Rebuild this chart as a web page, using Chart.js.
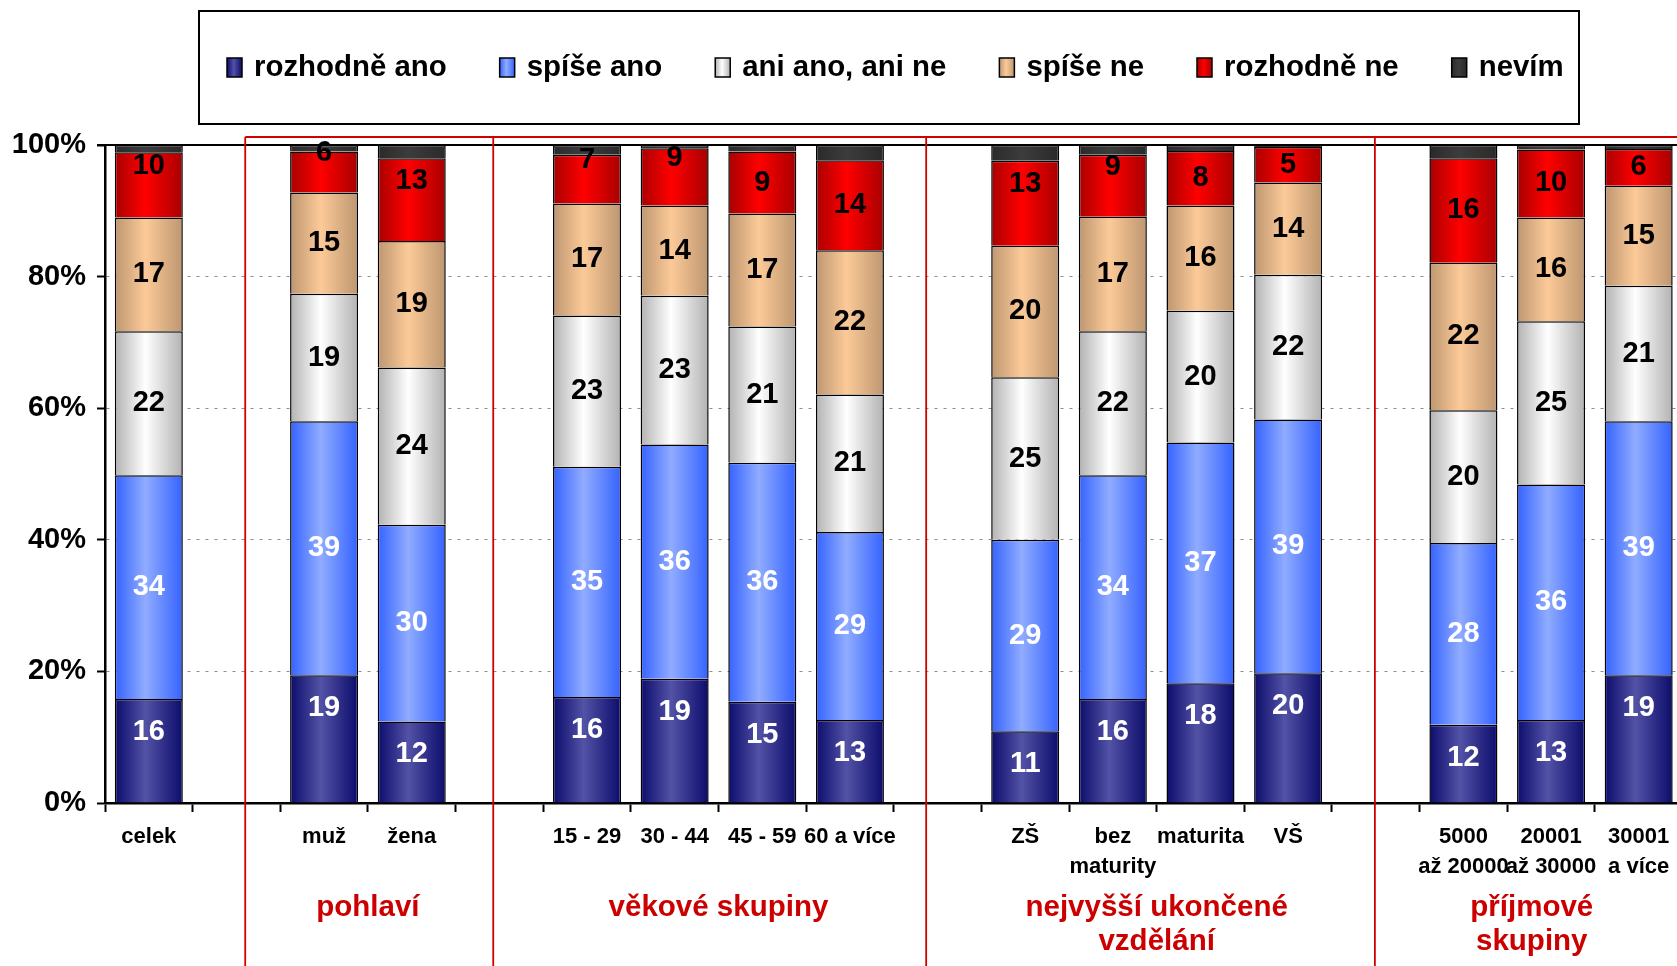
<!DOCTYPE html>
<html lang="cs">
<head>
<meta charset="utf-8">
<title>Názor podle skupin</title>
<script src="https://cdn.jsdelivr.net/npm/chart.js@4/dist/chart.umd.min.js"></script>
<style>
  html, body { margin: 0; padding: 0; background: #fff; overflow: hidden; }
  canvas { display: block; }
</style>
</head>
<body>
<canvas id="chart" width="1700" height="966"></canvas>
<script>
'use strict'

// categories (empty strings = gaps between groups)
const categories = [
  'celek', '',
  'muž', 'žena', '',
  '15 - 29', '30 - 44', '45 - 59', '60 a více', '',
  'ZŠ', ['bez', 'maturity'], 'maturita', 'VŠ', '',
  ['5000', 'až 20000'], ['20001', 'až 30000'], ['30001', 'a více']
]

const seriesNames = ['rozhodně ano', 'spíše ano', 'ani ano, ani ne', 'spíše ne', 'rozhodně ne', 'nevím']

// values in %
const rozhodneAno = [15.8, null, 19.4, 12.4, null, 16.1, 18.9, 15.4, 12.6, null, 10.9, 15.8, 18.2, 19.7, null, 11.9, 12.6, 19.4]
const spiseAno    = [34.0, null, 38.6, 29.9, null, 35.0, 35.6, 36.3, 28.6, null, 29.1, 34.0, 36.6, 38.6, null, 27.6, 35.8, 38.6]
const aniAnoAniNe = [21.9, null, 19.4, 23.9, null, 23.0, 22.6, 20.7, 20.9, null, 24.7, 21.9, 20.0, 22.0, null, 20.2, 24.8, 20.6]
const spiseNe     = [17.3, null, 15.4, 19.2, null, 17.0, 13.7, 17.2, 21.9, null, 20.0, 17.4, 16.0, 14.0, null, 22.4, 15.8, 15.2]
const rozhodneNe  = [9.9, null, 6.2, 12.6, null, 7.4, 8.7, 9.4, 13.7, null, 12.9, 9.4, 8.3, 5.4, null, 15.9, 10.3, 5.6]
const nevim       = [1.1, null, 1.0, 2.0, null, 1.5, 0.5, 1.0, 2.3, null, 2.4, 1.5, 0.9, 0.3, null, 2.0, 0.7, 0.6]

const yTicks = [0, 20, 40, 60, 80, 100]

// group captions under the axis
const groupNames = [['pohlaví'], ['věkové skupiny'], ['nejvyšší ukončené', 'vzdělání'], ['příjmové', 'skupiny']]
const groupCenters = [2.5, 6.5, 11.5, 15.78]   // in category units
const separators = [1.1, 3.93, 8.87, 13.99]    // in category units

// red labels that sit higher in their segment in the original
const liftedRed = [0, 2, 3, 5, 6, 10, 11]

const FONT = "'Liberation Sans', Arial, sans-serif"
const BAR_PCT = 0.776

// edge / middle colours of the cylinder-ish gradient
const palette = [
  ['#0c0c6c', '#5252a6'],
  ['#3462ff', '#90acff'],
  ['#b2b2b2', '#ffffff'],
  ['#bd9670', '#fcca98'],
  ['#a80000', '#ff0000'],
  ['#2a2a2a', '#3c3c3c']
]

function cylinder (edge, mid) {
  return (c) => {
    const xs = c.chart.scales.x
    if (c.type !== 'data' || !xs || !xs.width) return mid
    const cx = xs.getPixelForValue(c.dataIndex)
    const half = xs.width / categories.length * BAR_PCT / 2
    const g = c.chart.ctx.createLinearGradient(cx - half, 0, cx + half, 0)
    g.addColorStop(0, edge)
    g.addColorStop(0.45, mid)
    g.addColorStop(1, edge)
    return g
  }
}

const seriesData = [rozhodneAno, spiseAno, aniAnoAniNe, spiseNe, rozhodneNe, nevim]

const datasets = seriesData.map((d, i) => ({
  label: seriesNames[i],
  data: d,
  backgroundColor: cylinder(palette[i][0], palette[i][1]),
  borderColor: '#000',
  borderWidth: 1.5,
  categoryPercentage: 1,
  barPercentage: BAR_PCT
}))

// legend box, data labels, group captions, red separators
const decorations = {
  id: 'decorations',
  afterDatasetsDraw (chart) {
    const { ctx } = chart
    ctx.save()
    ctx.font = 'bold 29px ' + FONT
    ctx.textAlign = 'center'
    ctx.textBaseline = 'middle'
    for (let di = 0; di < 5; di++) {
      const meta = chart.getDatasetMeta(di)
      meta.data.forEach((bar, i) => {
        const v = seriesData[di][i]
        if (v == null) return
        let y = (bar.y + bar.base) / 2
        if (di === 0) y = bar.y + 33
        if (di === 4 && liftedRed.includes(i)) y -= 19
        ctx.fillStyle = di < 2 ? '#fff' : '#000'
        ctx.fillText(String(Math.round(v)), bar.x, y)
      })
    }
    ctx.restore()
  },
  afterDraw (chart) {
    const { ctx, chartArea } = chart
    const xs = chart.scales.x
    const ys = chart.scales.y
    const slot = xs.width / categories.length
    const px = (v) => xs.left + slot * (v + 0.5)
    ctx.save()

    // top line at 100 %
    ctx.strokeStyle = '#000'
    ctx.lineWidth = 2
    ctx.beginPath()
    ctx.moveTo(chartArea.left - 8, ys.getPixelForValue(100))
    ctx.lineTo(chartArea.right, ys.getPixelForValue(100))
    ctx.stroke()

    // red group frames
    const top = ys.getPixelForValue(100) - 8
    ctx.strokeStyle = '#d00000'
    ctx.lineWidth = 1.8
    ctx.beginPath()
    ctx.moveTo(px(separators[0]), top)
    ctx.lineTo(chart.width, top)
    separators.forEach((s) => {
      ctx.moveTo(px(s), top)
      ctx.lineTo(px(s), chart.height)
    })
    ctx.stroke()

    // group captions
    ctx.fillStyle = '#cc0000'
    ctx.font = 'bold 29.5px ' + FONT
    ctx.textAlign = 'center'
    ctx.textBaseline = 'middle'
    groupNames.forEach((lines, gi) => {
      lines.forEach((t, li) => {
        ctx.fillText(t, px(groupCenters[gi]), 908 + li * 34)
      })
    })

    // legend
    ctx.fillStyle = '#fff'
    ctx.strokeStyle = '#000'
    ctx.lineWidth = 2
    ctx.fillRect(199, 11, 1380, 113)
    ctx.strokeRect(199, 11, 1380, 113)
    ctx.font = 'bold 29.4px ' + FONT
    ctx.textAlign = 'left'
    let x = 227
    seriesNames.forEach((name, i) => {
      const g = ctx.createLinearGradient(x, 0, x + 15, 0)
      g.addColorStop(0, palette[i][0])
      g.addColorStop(0.45, palette[i][1])
      g.addColorStop(1, palette[i][0])
      ctx.fillStyle = g
      ctx.fillRect(x, 58, 15, 19)
      ctx.lineWidth = 1.5
      ctx.strokeRect(x, 58, 15, 19)
      ctx.fillStyle = '#000'
      ctx.fillText(name, x + 27, 68)
      x += 27 + ctx.measureText(name).width + 53
    })
    ctx.restore()
  }
}

const chart = new Chart(document.getElementById('chart'), {
  type: 'bar',
  data: { labels: categories, datasets },
  options: {
    responsive: false,
    animation: false,
    devicePixelRatio: 1,
    layout: { padding: { top: 145, right: 17.5, left: 0, bottom: 0 } },
    plugins: {
      legend: { display: false },
      tooltip: { enabled: false }
    },
    scales: {
      x: {
        stacked: true,
        afterFit: (s) => { s.height = 163 },
        grid: { drawOnChartArea: false, drawTicks: true, tickLength: 9, tickColor: '#000', tickWidth: 2 },
        border: { display: true, color: '#000', width: 2.5 },
        ticks: {
          color: '#000',
          padding: 10,
          font: { family: FONT, size: 22, weight: 'bold', lineHeight: 1.36 },
          maxRotation: 0,
          autoSkip: false
        }
      },
      y: {
        stacked: true,
        min: 0,
        max: 100,
        afterFit: (s) => { s.width = 105 },
        afterBuildTicks: (s) => { s.ticks = yTicks.map((v) => ({ value: v })) },
        grid: {
          color: (c) => (c.tick && c.tick.value === 100) ? 'rgba(0,0,0,0)' : '#8c8c8c',
          lineWidth: 1,
          drawTicks: true,
          tickLength: 8,
          tickColor: '#000',
          tickWidth: 2
        },
        border: { display: true, color: '#000', width: 2.5, dash: [3, 6] },
        ticks: {
          color: '#000',
          padding: 11,
          font: { family: FONT, size: 29, weight: 'bold' },
          callback: (v) => v + '%'
        }
      }
    }
  },
  plugins: [decorations]
})
</script>
</body>
</html>
